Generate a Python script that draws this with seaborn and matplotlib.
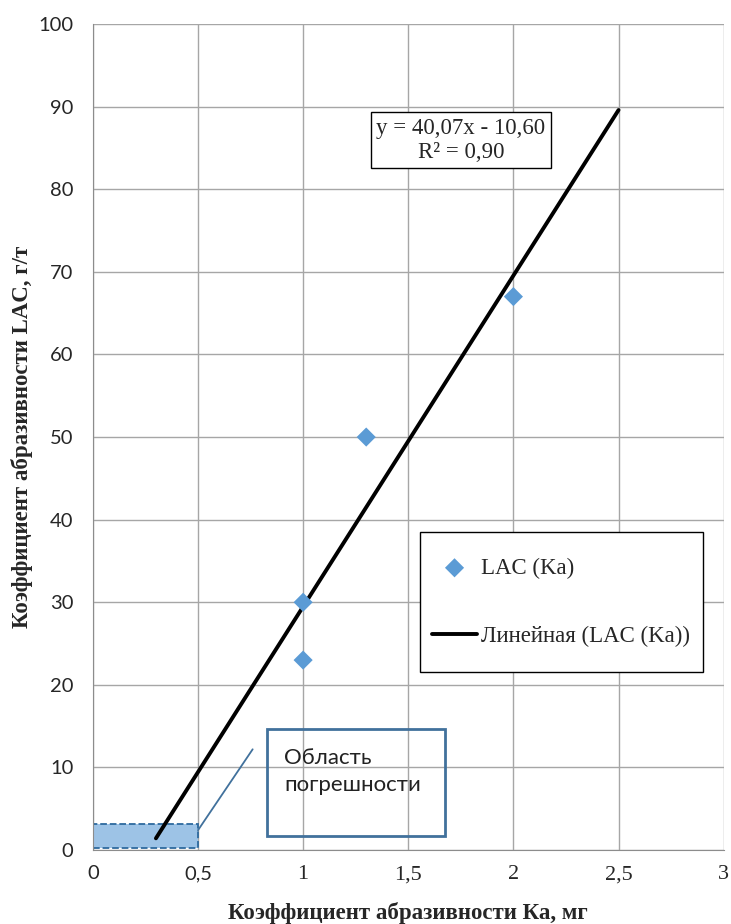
import numpy as np
import pandas as pd
import matplotlib
matplotlib.use("Agg")
import matplotlib.pyplot as plt
import seaborn as sns
from matplotlib.patches import Rectangle

# Data
ka = [1.0, 1.0, 1.3, 2.0]
lac = [30, 23, 50, 67]
x_ticks = [0, 0.5, 1, 1.5, 2, 2.5, 3]
x_tick_labels = ['0', '0,5', '1', '1,5', '2', '2,5', '3']
y_ticks = list(range(0, 101, 10))
trend_range = [0.3, 2.5]
error_x = [0, 0.5]
error_y = [0.3, 3.2]

sns.set_style("white")
plt.rcParams['font.family'] = ['Liberation Serif', 'DejaVu Serif']
sans = ['Lato', 'DejaVu Sans']

df = pd.DataFrame({'Ka': ka, 'LAC': lac})
slope, intercept = np.polyfit(ka, lac, 1)
pred = slope * np.array(ka) + intercept
r2 = 1 - np.sum((np.array(lac) - pred) ** 2) / np.sum((np.array(lac) - np.mean(lac)) ** 2)
trend = pd.DataFrame({'Ka': trend_range})
trend['LAC'] = slope * trend['Ka'] + intercept

fig = plt.figure(figsize=(7.31, 9.24), dpi=100)
ax = fig.add_axes([0.127, 0.080, 0.863, 0.894])

# error region
ax.add_patch(Rectangle((error_x[0], error_y[0]), error_x[1] - error_x[0], error_y[1] - error_y[0],
                       facecolor='#9DC3E6', edgecolor='#2E6A9E', linestyle='--', linewidth=1.3, zorder=2))

sns.lineplot(data=trend, x='Ka', y='LAC', color='black', linewidth=2.8, ax=ax,
             label='Линейная (LAC (Ka))', zorder=3)
sns.scatterplot(data=df, x='Ka', y='LAC', marker='D', s=95, color='#5B9BD5', edgecolor='none',
                ax=ax, label='LAC (Ka)', zorder=4)

ax.set_xlim(0, 3)
ax.set_ylim(0, 100)
ax.set_xticks(x_ticks)
ax.set_xticklabels(x_tick_labels)
ax.set_yticks(y_ticks)
ax.grid(True, color='#A6A6A6', linewidth=1)
ax.set_axisbelow(True)
for side in ['top', 'right']:
    ax.spines[side].set_visible(False)
for side in ['left', 'bottom']:
    ax.spines[side].set_color('#8C8C8C')
ax.tick_params(axis='both', labelsize=16, length=6, color='#8C8C8C', direction='out')
ax.tick_params(axis='y', pad=8)
ax.tick_params(axis='x', pad=5)
# the original mixes fonts: y ticks and the first x ticks are Calibri-like
for lbl in ax.get_yticklabels():
    lbl.set_fontfamily(sans)
    lbl.set_fontsize(14.5)
for lbl in ax.get_xticklabels()[:2]:
    lbl.set_fontfamily(sans)
    lbl.set_fontsize(14.5)

ax.set_xlabel('Коэффициент абразивности Ка, мг', fontsize=16.5, fontweight='bold', labelpad=13)
ax.set_ylabel('Коэффициент абразивности LAC, г/т', fontsize=16.5, fontweight='bold', labelpad=4)

# legend: frame drawn separately so the padding can match the original
ax.add_patch(Rectangle((0.518, 0.2155), 0.449, 0.1695, transform=ax.transAxes,
                       facecolor='white', edgecolor='black', linewidth=1.0, zorder=5))
handles, labels = ax.get_legend_handles_labels()
order = [labels.index('LAC (Ka)'), labels.index('Линейная (LAC (Ka))')]
leg = ax.legend([handles[i] for i in order], [labels[i] for i in order],
                loc='upper left', bbox_to_anchor=(0.537, 0.354), fontsize=16.5,
                frameon=False, labelspacing=2.05, borderpad=0, handlelength=2.0,
                handletextpad=0.15, borderaxespad=0)
leg.set_zorder(6)

# equation box
ax.text(1.75, 88.6, f'y = {slope:.2f}x - {abs(intercept):.2f}\nR² = {r2:.2f}'.replace('.', ','),
        ha='center', va='top', fontsize=16.5, linespacing=1.15,
        bbox=dict(boxstyle='square,pad=0.25', facecolor='white', edgecolor='black', linewidth=1))

# callout
ax.plot([0.5, 0.76], [2.4, 12.2], color='#41719C', linewidth=1.3, zorder=3)
ax.text(0.91, 12.4, 'Область\nпогрешности', ha='left', va='top', fontsize=16,
        linespacing=1.45, family=sans, color='#222222')
ax.add_patch(Rectangle((0.83, 1.7), 0.845, 13.0, facecolor='none', edgecolor='#41719C',
                       linewidth=2, zorder=3))

fig.savefig('out.png', dpi=100)
